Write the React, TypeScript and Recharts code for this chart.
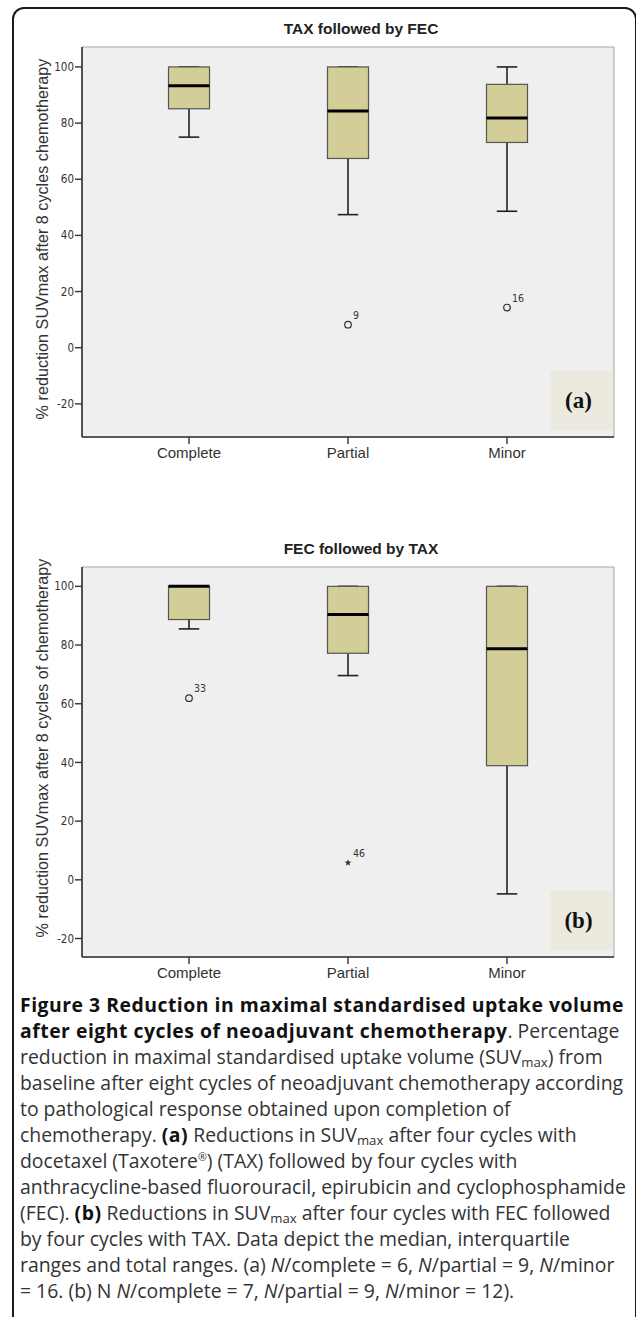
import { ComposedChart, Bar, Scatter, XAxis, YAxis, ReferenceArea } from 'recharts';

const categories = ['Complete', 'Partial', 'Minor'];
const positions = [1, 2, 3];
const yTicks = [-20, 0, 20, 40, 60, 80, 100];

// (a) TAX followed by FEC
const lowA = [75, 47.4, 48.6];
const q1A = [85.1, 67.4, 73.1];
const medA = [93.3, 84.3, 81.8];
const q3A = [100, 100, 93.8];
const highA = [100, 100, 100];
const outA = [null, 8.2, 14.3];
const outIdA = ['', '9', '16'];
const outKindA = ['', 'circle', 'circle'];

// (b) FEC followed by TAX
const lowB = [85.5, 69.6, -4.8];
const q1B = [88.7, 77.2, 38.9];
const medB = [100, 90.4, 78.7];
const q3B = [100, 100, 100];
const highB = [100, 100, 100];
const outB = [61.9, 5.8, null];
const outIdB = ['33', '46', ''];
const outKindB = ['circle', 'star', ''];

const BOX_FILL = '#d3ce97';
const NARROW = '"Liberation Sans Narrow", "DejaVu Sans Condensed", Arial, sans-serif';
const SANS = '"Liberation Sans", Arial, sans-serif';

function buildRows(low, q1, med, q3, high, out, outId, outKind) {
  return categories.map((name, i) => ({
    name,
    x: positions[i],
    low: low[i],
    q1: q1[i],
    med: med[i],
    q3: q3[i],
    high: high[i],
    out: out[i],
    outId: outId[i],
    outKind: outKind[i],
  }));
}

const rowsA = buildRows(lowA, q1A, medA, q3A, highA, outA, outIdA, outKindA);
const rowsB = buildRows(lowB, q1B, medB, q3B, highB, outB, outIdB, outKindB);

function BoxShape(props: any) {
  const { x, y, width, height, payload } = props;
  if (x == null || y == null) return null;
  const top = Math.min(y, y + height);
  const bot = Math.max(y, y + height);
  const span = payload.high - payload.low;
  // pixel position of a value, taken from the bar's own [low, high] extent
  const py = (v: number) => top + ((payload.high - v) / span) * (bot - top);
  const cx = x + width / 2;
  const cap = width / 4;
  const w = '#222';
  return (
    <g>
      <line x1={cx} x2={cx} y1={py(payload.high)} y2={py(payload.q3)} stroke={w} strokeWidth={1.6} />
      <line x1={cx - cap} x2={cx + cap} y1={py(payload.high)} y2={py(payload.high)} stroke={w} strokeWidth={1.6} />
      <line x1={cx} x2={cx} y1={py(payload.q1)} y2={py(payload.low)} stroke={w} strokeWidth={1.6} />
      <line x1={cx - cap} x2={cx + cap} y1={py(payload.low)} y2={py(payload.low)} stroke={w} strokeWidth={1.6} />
      <rect
        x={x}
        y={py(payload.q3)}
        width={width}
        height={py(payload.q1) - py(payload.q3)}
        fill={BOX_FILL}
        stroke="#555"
        strokeWidth={1.2}
      />
      <line x1={x} x2={x + width} y1={py(payload.med)} y2={py(payload.med)} stroke="#000" strokeWidth={3} />
    </g>
  );
}

function OutlierShape(props: any) {
  const { cx, cy, payload } = props;
  if (payload == null || payload.out == null || cx == null || cy == null || isNaN(cy)) return null;
  let mark;
  if (payload.outKind === 'star') {
    const pts = [];
    for (let k = 0; k < 10; k++) {
      const r = k % 2 === 0 ? 3.6 : 1.5;
      const a = -Math.PI / 2 + (k * Math.PI) / 5;
      pts.push(`${cx + r * Math.cos(a)},${cy + r * Math.sin(a)}`);
    }
    mark = <polygon points={pts.join(' ')} fill="#333" />;
  } else {
    mark = <circle cx={cx} cy={cy} r={3.3} fill="none" stroke="#333" strokeWidth={1.2} />;
  }
  return (
    <g>
      {mark}
      <text x={cx + 5} y={cy - 6} fontSize={10.5} fontFamily={NARROW} fill="#333">
        {payload.outId}
      </text>
    </g>
  );
}

function BoxPanel({ rows, domain, title, yLabel, labelCenter, tag, top }) {
  return (
    <div style={{ position: 'absolute', left: 0, top, width: 636, height: 480 }}>
      <div
        style={{
          position: 'absolute',
          left: 211,
          width: 300,
          top: 20,
          textAlign: 'center',
          fontFamily: SANS,
          fontWeight: 'bold',
          fontSize: 15.5,
          color: '#222',
        }}
      >
        {title}
      </div>
      <ComposedChart width={636} height={480} data={rows} margin={{ top: 47, right: 22, bottom: 0, left: 0 }}>
        <ReferenceArea y1={domain[0]} y2={domain[1]} fill="#efefef" fillOpacity={1} stroke="#a5a5a5" strokeWidth={1} />
        <XAxis
          dataKey="x"
          type="number"
          domain={[0.327, 3.673]}
          ticks={positions}
          tickFormatter={(v) => categories[v - 1]}
          tickSize={7}
          tickMargin={3}
          axisLine={{ stroke: '#333', strokeWidth: 1.6 }}
          tickLine={{ stroke: '#333', strokeWidth: 1.4 }}
          tick={{ fill: '#333', fontSize: 15, fontFamily: SANS }}
          height={43}
          allowDataOverflow
        />
        <YAxis
          type="number"
          domain={domain}
          ticks={yTicks}
          width={82}
          tickSize={7}
          tickMargin={1}
          axisLine={{ stroke: '#333', strokeWidth: 1.6 }}
          tickLine={{ stroke: '#333', strokeWidth: 1.4 }}
          tick={{ fill: '#333', fontSize: 11.5, fontFamily: NARROW }}
          allowDataOverflow
          label={{
            content: () => (
              <text
                x={44}
                y={labelCenter}
                transform={`rotate(-90 44 ${labelCenter})`}
                textAnchor="middle"
                dominantBaseline="middle"
                fontSize={16.2}
                fontFamily={SANS}
                fill="#333"
              >
                {yLabel}
              </text>
            ),
          }}
        />
        <Bar
          dataKey={(r: any) => [r.low, r.high]}
          barSize={41}
          shape={BoxShape}
          isAnimationActive={false}
        />
        <Scatter dataKey="out" shape={OutlierShape} isAnimationActive={false} />
      </ComposedChart>
      <div
        style={{
          position: 'absolute',
          left: 550,
          top: 371,
          width: 63,
          height: 59,
          background: '#ece9df',
          display: 'flex',
          alignItems: 'center',
          justifyContent: 'center',
          fontFamily: '"Liberation Serif", "Times New Roman", serif',
          fontWeight: 'bold',
          fontSize: 23,
          color: '#111',
          paddingRight: 6,
          boxSizing: 'border-box',
        }}
      >
        {tag}
      </div>
    </div>
  );
}

const sub = { fontSize: '0.68em', position: 'relative', top: '0.2em', lineHeight: 0 } as const;
const sup = { fontSize: '0.55em', position: 'relative', top: '-0.7em', lineHeight: 0 } as const;
const bold = { color: '#111', letterSpacing: '0.5px' };

const captionLines = [
  <b style={bold}>Figure 3 Reduction in maximal standardised uptake volume</b>,
  <>
    <b style={bold}>after eight cycles of neoadjuvant chemotherapy</b>. Percentage
  </>,
  <>
    reduction in maximal standardised uptake volume (SUV<span style={sub}>max</span>) from
  </>,
  <>baseline after eight cycles of neoadjuvant chemotherapy according</>,
  <>to pathological response obtained upon completion of</>,
  <>
    chemotherapy. <b style={bold}>(a)</b> Reductions in SUV<span style={sub}>max</span> after four cycles with
  </>,
  <>
    docetaxel (Taxotere<span style={sup}>®</span>) (TAX) followed by four cycles with
  </>,
  <>anthracycline-based fluorouracil, epirubicin and cyclophosphamide</>,
  <>
    (FEC). <b style={bold}>(b)</b> Reductions in SUV<span style={sub}>max</span> after four cycles with FEC followed
  </>,
  <>by four cycles with TAX. Data depict the median, interquartile</>,
  <>
    ranges and total ranges. (a) <i>N</i>/complete = 6, <i>N</i>/partial = 9, <i>N</i>/minor
  </>,
  <>
    = 16. (b) N <i>N</i>/complete = 7, <i>N</i>/partial = 9, <i>N</i>/minor = 12).
  </>,
];

export default function App() {
  return (
    <div style={{ position: 'absolute', left: 0, top: 0, width: 636, height: 1317, background: '#fff', overflow: 'hidden' }}>
      <div
        style={{
          position: 'absolute',
          left: 12,
          top: 7,
          width: 621,
          height: 1340,
          border: '2px solid #1a1a1a',
          borderRadius: 12,
        }}
      />
      <BoxPanel
        rows={rowsA}
        domain={[-31.8, 107.1]}
        title="TAX followed by FEC"
        yLabel="% reduction SUVmax after 8 cycles chemotherapy"
        labelCenter={239}
        tag="(a)"
        top={0}
      />
      <BoxPanel
        rows={rowsB}
        domain={[-26.3, 106.6]}
        title="FEC followed by TAX"
        yLabel="% reduction SUVmax after 8 cycles of chemotherapy"
        labelCenter={228}
        tag="(b)"
        top={520}
      />
      <div
        style={{
          position: 'absolute',
          left: 20,
          top: 992,
          width: 616,
          fontFamily: '"Open Sans", "Noto Sans", sans-serif',
          fontSize: 19.4,
          lineHeight: '26px',
          color: '#333',
        }}
      >
        {captionLines.map((line, i) => (
          <div key={i} style={{ whiteSpace: 'nowrap', height: 26 }}>
            {line}
          </div>
        ))}
      </div>
    </div>
  );
}
